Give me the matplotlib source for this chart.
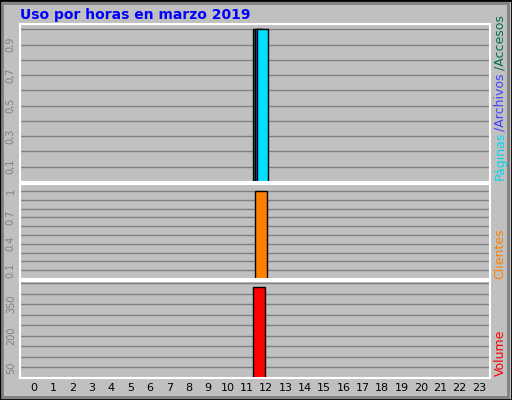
import matplotlib
matplotlib.use("Agg")
import matplotlib.pyplot as plt
from matplotlib.patches import Rectangle

hours = list(range(24))
accesos = [0]*12 + [1] + [0]*11
archivos = [0]*12 + [1] + [0]*11
paginas = [0]*12 + [1] + [0]*11
clientes = [0]*12 + [1] + [0]*11
volume = [0]*12 + [432] + [0]*11

W, H = 512, 400
fig = plt.figure(figsize=(W/100, H/100), dpi=100, facecolor="#c0c0c0")
fig.patches.append(Rectangle((0, 0), 1, 1, transform=fig.transFigure, fill=False, ec="black", lw=2))
fig.patches.append(Rectangle((2/W, 3/H), 1-6/W, 1-6/H, transform=fig.transFigure, fill=False, ec="#808080", lw=2))
fig.text(20/W, 1-15/H, "Uso por horas en marzo 2019", color="#0000ff", fontsize=10, fontweight="bold", va="center", ha="left")

def ax_at(x0, y0, x1, y1):
    a = fig.add_axes([x0/W, 1-y1/H, (x1-x0)/W, (y1-y0)/H])
    a.set_facecolor("#c0c0c0")
    for s in a.spines.values():
        s.set_color("white"); s.set_linewidth(1.5)
    a.set_xlim(-0.3, 23.7)
    a.set_xticks([])
    a.tick_params(axis="y", length=0, labelsize=7, labelcolor="#808080", pad=3)
    return a

def fin(a):
    for l in a.get_yticklabels():
        l.set_rotation(90); l.set_va("center")

a1 = ax_at(20, 24, 490, 182)
for g in [0.1*i for i in range(1, 11)]:
    a1.axhline(g, color="#808080", lw=1, zorder=0)
a1.set_ylim(0, 1.035)
a1.set_yticks([0.1, 0.3, 0.5, 0.7, 0.9])
a1.set_yticklabels(["0,1", "0,3", "0,5", "0,7", "0,9"])
a1.bar([h-0.2 for h in hours], accesos, width=0.45, color="#007050", ec="black", lw=1)
a1.bar([h-0.05 for h in hours], archivos, width=0.45, color="#4040ff", ec="black", lw=1)
a1.bar([h+0.1 for h in hours], paginas, width=0.55, color="#00e0ff", ec="black", lw=1)
fin(a1)

a2 = ax_at(20, 184, 490, 279)
for g in [0.1*i for i in range(1, 11)]:
    a2.axhline(g, color="#808080", lw=1, zorder=0)
a2.set_ylim(0, 1.08)
a2.set_yticks([0.1, 0.4, 0.7, 1.0])
a2.set_yticklabels(["0.1", "0.4", "0.7", "1"])
a2.bar(hours, clientes, width=0.65, color="#ff8000", ec="black", lw=1)
fin(a2)

a3 = ax_at(20, 281, 490, 378)
for g in range(50, 501, 50):
    a3.axhline(g, color="#808080", lw=1, zorder=0)
a3.set_ylim(0, 460)
a3.set_yticks([50, 200, 350])
a3.bar([h-0.1 for h in hours], volume, width=0.65, color="#ff0000", ec="black", lw=1)
fin(a3)

for h in hours:
    fig.text((34 + h*445/23)/W, 1-388/H, str(h), fontsize=8, ha="center", va="center")

fs = 9
fig.text(500/W, 1-180/H, "Páginas", color="#00d8f0", rotation=90, fontsize=fs, ha="center", va="bottom")
fig.text(500/W, 1-131/H, "/Archivos", color="#4040ff", rotation=90, fontsize=fs, ha="center", va="bottom")
fig.text(500/W, 1-70/H, "/Accesos", color="#007050", rotation=90, fontsize=fs, ha="center", va="bottom")
fig.text(500/W, 1-279/H, "Clientes", color="#ff8000", rotation=90, fontsize=fs, ha="center", va="bottom")
fig.text(500/W, 1-376/H, "Volume", color="#ff0000", rotation=90, fontsize=fs, ha="center", va="bottom")

fig.savefig("out.png", dpi=100, facecolor=fig.get_facecolor())
